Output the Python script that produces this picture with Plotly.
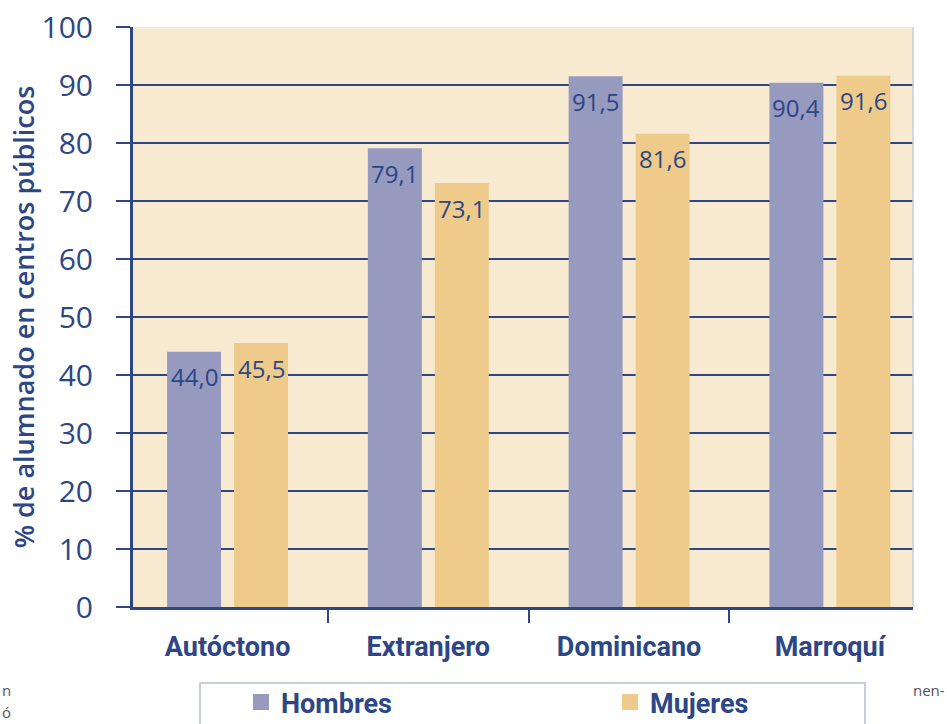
import plotly.graph_objects as go

categories = ["Autóctono", "Extranjero", "Dominicano", "Marroquí"]
hombres = [44.0, 79.1, 91.5, 90.4]
mujeres = [45.5, 73.1, 81.6, 91.6]
series_names = ["Hombres", "Mujeres"]
y_title = "% de alumnado en centros públicos"
y_ticks = list(range(0, 101, 10))

DARK = "#2C4686"
C_H = "#959ABE"
C_M = "#EFCB8B"
BG = "#F7EAD1"
COND = "Roboto, sans-serif"

fig = go.Figure()
for name, vals, col in [(series_names[0], hombres, C_H), (series_names[1], mujeres, C_M)]:
    fig.add_trace(go.Bar(x=categories, y=vals, name=name, marker_color=col,
                         marker_line_width=0, showlegend=False, legendgroup=name))
    # legend entry with larger square symbol
    fig.add_trace(go.Scatter(x=[None], y=[None], mode="markers", name=name,
                             legendgroup=name,
                             marker=dict(symbol="square", size=23, color=col)))

# value labels
for vals, shift in [(hombres, -33.5), (mujeres, 33.5)]:
    for c, v in zip(categories, vals):
        fig.add_annotation(x=c, y=v, xref="x", yref="y", text=f"{v:.1f}".replace(".", ","),
                           showarrow=False, xshift=shift, yshift=-25, yanchor="middle",
                           font=dict(family="Open Sans", size=24, color=DARK))

# cropped stray text at page edges
for txt, px, py in [("n", -133/780, -(690-607)/580), ("ó", -133/780, -(712-607)/580),
                    ("nen-", (911-133)/780, -(690-607)/580)]:
    fig.add_annotation(x=px, y=py, xref="paper", yref="paper",
                       text=txt, showarrow=False, xanchor="left", yanchor="middle",
                       font=dict(family="Open Sans", size=15, color="#555555"))

# legend box
fig.add_shape(type="rect", xref="paper", yref="paper",
              x0=(200-133)/780, x1=(865-133)/780, y0=-(740-607)/580, y1=-(683-607)/580,
              line=dict(color="#C9CDDA", width=2), fillcolor="rgba(0,0,0,0)")
# right edge of plot frame
fig.add_shape(type="line", xref="paper", yref="paper", x0=1, x1=1, y0=0, y1=1,
              line=dict(color="#C9CDDA", width=1.5))

fig.update_layout(
    width=947, height=724,
    margin=dict(l=133, r=34, t=27, b=117, autoexpand=False),
    paper_bgcolor="white", plot_bgcolor=BG,
    barmode="group", bargap=0.333, bargroupgap=0.194,
    showlegend=True,
    legend=dict(orientation="h", x=(241-133)/780, xanchor="left",
                y=-(678-607)/580, yanchor="top",
                bgcolor="rgba(0,0,0,0)", borderwidth=0,
                entrywidth=324, indentation=0,
                font=dict(family=COND, size=27, color=DARK, weight="bold")),
    xaxis=dict(type="category", range=[-0.471, 3.414], tickson="boundaries",
               ticks="outside", ticklen=13, tickwidth=2, tickcolor=DARK,
               showline=True, linecolor=DARK, linewidth=3, showgrid=False,
               ticklabelstandoff=14,
               tickfont=dict(family=COND, size=27, color=DARK, weight="bold")),
    yaxis=dict(range=[0, 100], tickvals=y_ticks, ticks="outside", ticklen=14,
               tickwidth=2, tickcolor=DARK, showline=True, linecolor=DARK, linewidth=3,
               showgrid=True, gridcolor=DARK, gridwidth=2, zeroline=False,
               ticklabelstandoff=17,
               tickfont=dict(family="Open Sans", size=30, color=DARK),
               title=dict(text=y_title, standoff=0,
                          font=dict(family="Open Sans", size=27, color=DARK, weight=600))),
)

fig.write_html("out.html", config={"displayModeBar": False},
               post_script="document.body.style.margin='0px';document.body.style.overflow='hidden';")
